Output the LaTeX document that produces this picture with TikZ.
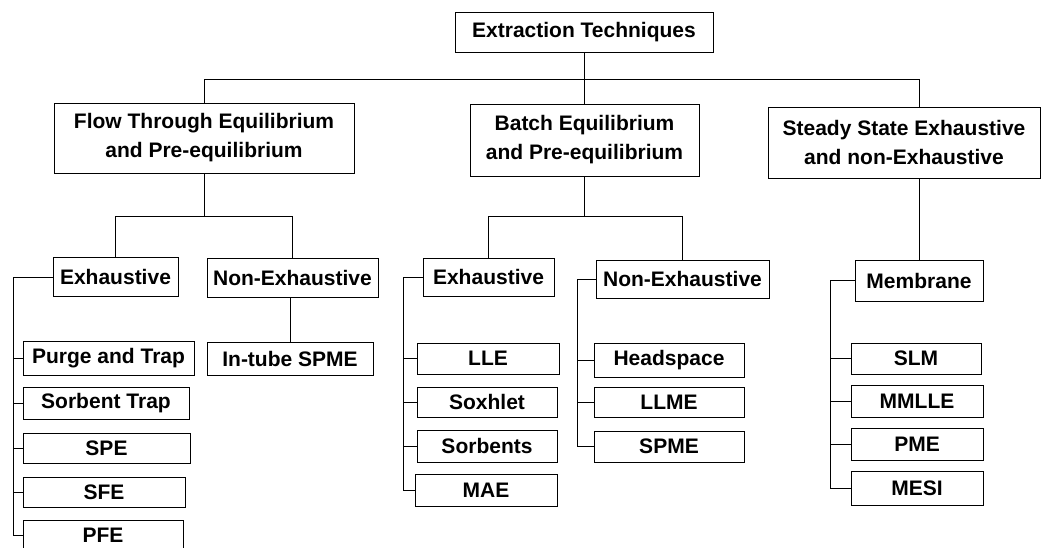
\documentclass[tikz,border=0pt]{standalone}
\usepackage{fontspec}
\setmainfont{Liberation Sans}
\usetikzlibrary{calc}
\begin{document}
\begin{tikzpicture}[x=1pt,y=-1pt,
  box/.style={draw, line width=0.8pt, inner sep=0pt, align=center,
    font=\bfseries\fontsize{21}{29}\selectfont},
  conn/.style={line width=0.8pt}]
\useasboundingbox (0,0) rectangle (1042,547);
% level 0 and 1
\node[box,minimum width=258,minimum height=40] (top) at (584,32) {Extraction Techniques};
\node[box,minimum width=300,minimum height=70] (flow) at (204,138) {Flow Through Equilibrium\\and Pre-equilibrium};
\node[box,minimum width=229,minimum height=72] (batch) at (584.5,140) {Batch Equilibrium\\and Pre-equilibrium};
\node[box,minimum width=272,minimum height=71] (steady) at (904,142.5) {Steady State Exhaustive\\and non-Exhaustive};
% level 2
\node[box,minimum width=125,minimum height=39] (fex) at (115.5,277) {Exhaustive};
\node[box,minimum width=171,minimum height=39] (fnex) at (292.5,277.5) {Non-Exhaustive};
\node[box,minimum width=131,minimum height=38] (bex) at (488.5,277) {Exhaustive};
\node[box,minimum width=173,minimum height=38] (bnex) at (682.5,279) {Non-Exhaustive};
\node[box,minimum width=128,minimum height=41] (mem) at (919,280.5) {Membrane};
% leaves: flow exhaustive
\node[box,minimum width=171,minimum height=34] (pt) at (108.5,358) {Purge and Trap};
\node[box,minimum width=166,minimum height=32] (st) at (106,403) {Sorbent Trap};
\node[box,minimum width=167,minimum height=30] (spe) at (106.5,448.5) {SPE};
\node[box,minimum width=162,minimum height=30] (sfe) at (104,492.5) {SFE};
\node[box,minimum width=160,minimum height=30] (pfe) at (103,535) {PFE};
% flow non-exhaustive
\node[box,minimum width=166,minimum height=33] (itube) at (290,358.5) {In-tube SPME};
% batch exhaustive
\node[box,minimum width=142,minimum height=31] (lle) at (488,358.5) {LLE};
\node[box,minimum width=140,minimum height=30] (sox) at (487,402) {Soxhlet};
\node[box,minimum width=140,minimum height=32] (sorb) at (487,446) {Sorbents};
\node[box,minimum width=142,minimum height=32] (mae) at (486,490) {MAE};
% batch non-exhaustive
\node[box,minimum width=150,minimum height=34] (head) at (669,360) {Headspace};
\node[box,minimum width=150,minimum height=30] (llme) at (669,402) {LLME};
\node[box,minimum width=150,minimum height=31] (spme) at (669,446.5) {SPME};
% membrane
\node[box,minimum width=130,minimum height=31] (slm) at (916,358.5) {SLM};
\node[box,minimum width=132,minimum height=32] (mmlle) at (917,401) {MMLLE};
\node[box,minimum width=132,minimum height=32] (pme) at (917,444) {PME};
\node[box,minimum width=132,minimum height=34] (mesi) at (917,488) {MESI};
% connectors level 0-1
\coordinate (bus0) at (0,79);
\draw[conn] (top.south) -- (top.south |- bus0);
\draw[conn] (flow.north) -- (flow.north |- bus0) -- (mem.north |- bus0) -- (mem.north |- steady.north);
\draw[conn] (batch.north) -- (batch.north |- bus0);
% level 1-2
\coordinate (bus1) at (0,216);
\draw[conn] (flow.south) -- (flow.south |- bus1);
\draw[conn] (fex.north) -- (fex.north |- bus1) -- (fnex.north |- bus1) -- (fnex.north);
\draw[conn] (batch.south) -- (batch.south |- bus1);
\draw[conn] (bex.north) -- (bex.north |- bus1) -- (bnex.north |- bus1) -- (bnex.north);
\draw[conn] (mem.north) -- (mem.north |- steady.south);
\draw[conn] (itube.north) -- (itube.north |- fnex.south);
% spines
\coordinate (s1) at (13,0);
\draw[conn] (fex.west) -- (fex.west -| s1) -- (pfe.west -| s1) -- (pfe.west);
\foreach \n in {pt,st,spe,sfe} \draw[conn] (\n.west -| s1) -- (\n.west);
\coordinate (s2) at (403,0);
\draw[conn] (bex.west) -- (bex.west -| s2) -- (mae.west -| s2) -- (mae.west);
\foreach \n in {lle,sox,sorb} \draw[conn] (\n.west -| s2) -- (\n.west);
\coordinate (s3) at (577,0);
\draw[conn] (bnex.west) -- (bnex.west -| s3) -- (spme.west -| s3) -- (spme.west);
\foreach \n in {head,llme} \draw[conn] (\n.west -| s3) -- (\n.west);
\coordinate (s4) at (830,0);
\draw[conn] (mem.west) -- (mem.west -| s4) -- (mesi.west -| s4) -- (mesi.west);
\foreach \n in {slm,mmlle,pme} \draw[conn] (\n.west -| s4) -- (\n.west);
\end{tikzpicture}
\end{document}
